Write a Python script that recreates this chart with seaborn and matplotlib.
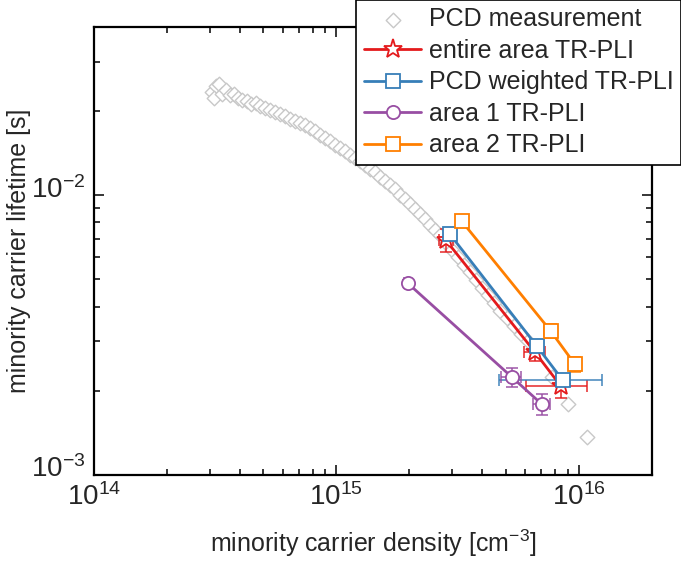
import numpy as np
import pandas as pd
import matplotlib
matplotlib.use("Agg")
import matplotlib.pyplot as plt
import matplotlib.transforms as mtransforms
import seaborn as sns

# PCD measurement (density [cm^-3], lifetime [s])
pcd_density = [3.07e14, 3.19e14, 3.13e14, 3.28e14, 3.37e14, 3.50e14, 3.64e14, 3.78e14,
               3.93e14, 4.08e14, 4.27e14, 4.44e14, 4.66e14, 4.84e14, 5.07e14, 5.32e14,
               5.58e14, 5.85e14, 6.13e14, 6.43e14, 6.74e14, 7.07e14, 7.42e14, 7.78e14,
               8.15e14, 8.55e14, 8.97e14, 9.40e14, 9.86e14, 1.034e15, 1.084e15, 1.137e15,
               1.192e15, 1.250e15, 1.311e15, 1.375e15, 1.442e15, 1.511e15, 1.585e15,
               1.662e15, 1.743e15, 1.828e15, 1.917e15, 2.010e15, 2.107e15, 2.210e15,
               2.317e15, 2.430e15, 2.548e15, 2.672e15, 2.828e15, 2.995e15, 3.170e15,
               3.356e15, 3.552e15, 3.761e15, 3.981e15, 4.214e15, 4.462e15, 4.723e15,
               5.047e15, 5.395e15, 5.766e15, 6.163e15, 6.587e15, 7.740e15, 9.01e15, 1.079e16]
pcd_lifetime = [0.02333, 0.02451, 0.02220, 0.02491, 0.02295, 0.02371, 0.02276, 0.02295,
                0.02220, 0.02184, 0.02166, 0.02113, 0.02131, 0.02079, 0.02045, 0.02012,
                0.01979, 0.01947, 0.01915, 0.01868, 0.01838, 0.01808, 0.01778, 0.01735,
                0.01693, 0.01638, 0.01598, 0.01560, 0.01509, 0.01472, 0.01436, 0.01390,
                0.01356, 0.01323, 0.01280, 0.01239, 0.01208, 0.01160, 0.01122, 0.01086,
                0.01050, 0.01000, 0.00968, 0.00929, 0.00891, 0.00855, 0.00821, 0.00781,
                0.00750, 0.00720, 0.00674, 0.00636, 0.00600, 0.00562, 0.00531, 0.00497,
                0.00466, 0.00439, 0.00411, 0.00385, 0.00364, 0.00340, 0.00319, 0.00301,
                0.00280, 0.00224, 0.00179, 0.00137]

# TR-PLI series
entire_x = [2.83e15, 6.59e15, 8.43e15]
entire_y = [6.91e-3, 2.75e-3, 2.08e-3]
entire_xerr = [0.19e15, 0.64e15, 2.35e15]
entire_yerr = [0.65e-3, 0.20e-3, 0.19e-3]

weighted_x = [2.94e15, 6.71e15, 8.59e15]
weighted_y = [7.26e-3, 2.89e-3, 2.18e-3]
weighted_xerr = [0.10e15, 0.30e15, 3.90e15]
weighted_yerr = [0.15e-3, 0.10e-3, 0.09e-3]

area1_x = [1.97e15, 5.29e15, 7.04e15]
area1_y = [4.85e-3, 2.24e-3, 1.79e-3]
area1_xerr = [0.06e15, 0.50e15, 0.54e15]
area1_yerr = [0.12e-3, 0.18e-3, 0.15e-3]

area2_x = [3.29e15, 7.66e15, 9.63e15]
area2_y = [8.08e-3, 3.27e-3, 2.49e-3]
area2_xerr = [0.08e15, 0.47e15, 0.55e15]
area2_yerr = [0.10e-3, 0.19e-3, 0.15e-3]

sns.set_style("ticks")
plt.rcParams['font.family'] = ['Liberation Sans', 'DejaVu Sans']
plt.rcParams['mathtext.fontset'] = 'custom'
plt.rcParams['mathtext.rm'] = 'Liberation Sans'
plt.rcParams['mathtext.it'] = 'Liberation Sans:italic'

fig = plt.figure(figsize=(6.81, 5.62), dpi=100)
ax = fig.add_axes([0.138, 0.155, 0.819, 0.797])

df_pcd = pd.DataFrame({'density': pcd_density, 'lifetime': pcd_lifetime})
sns.scatterplot(data=df_pcd, x='density', y='lifetime', marker='D', s=55,
                facecolor='white', edgecolor='#c8c8c8', linewidth=1.0,
                label='PCD measurement', ax=ax, zorder=2)

series = [
    ('entire area TR-PLI', entire_x, entire_y, entire_xerr, entire_yerr, '#e41a1c', '*', 14),
    ('PCD weighted TR-PLI', weighted_x, weighted_y, weighted_xerr, weighted_yerr, '#377eb8', 's', 9.5),
    ('area 1 TR-PLI', area1_x, area1_y, area1_xerr, area1_yerr, '#984ea3', 'o', 9.5),
    ('area 2 TR-PLI', area2_x, area2_y, area2_xerr, area2_yerr, '#ff7f00', 's', 9.5),
]

for name, xs, ys, xe, ye, col, mk, ms in series:
    ax.errorbar(xs, ys, xerr=xe, yerr=ye, fmt='none', ecolor=col, elinewidth=1.3,
                capsize=4.5, capthick=1.3, alpha=0.8, zorder=3)
    sns.lineplot(x=xs, y=ys, sort=False, estimator=None, color=col, linewidth=2,
                 marker=mk, markersize=ms, markerfacecolor='white',
                 markeredgecolor=col, markeredgewidth=1.3, label=name, ax=ax, zorder=4)

ax.set_xscale('log')
ax.set_yscale('log')
ax.set_xlim(1e14, 2e16)
ax.set_ylim(1e-3, 0.04)

ax.set_xlabel('minority carrier density [cm$^{-3}$]', fontsize=18, labelpad=12)
ax.set_ylabel('minority carrier lifetime [s]', fontsize=18, labelpad=0)
ax.tick_params(axis='both', which='both', direction='in', top=True, right=True,
               labelsize=20, width=1.3, pad=6)
ax.tick_params(which='major', length=7)
ax.tick_params(which='minor', length=4)
for sp in ax.spines.values():
    sp.set_linewidth(1.6)
    sp.set_color('black')

# y tick labels sit a little above their ticks, as in the original
shift = mtransforms.ScaledTranslation(0, 6 / 72, fig.dpi_scale_trans)
for lab in ax.get_yticklabels():
    lab.set_transform(lab.get_transform() + shift)

leg = ax.legend(loc='upper right', bbox_to_anchor=(1.0, 1.0),
                bbox_transform=fig.transFigure, borderaxespad=0, fontsize=18,
                frameon=True, fancybox=False, edgecolor='black', framealpha=1,
                handlelength=2.3, handletextpad=0.3, borderpad=0.3, labelspacing=0.3)
leg.get_frame().set_linewidth(1.2)

fig.savefig('out.png', dpi=100)
